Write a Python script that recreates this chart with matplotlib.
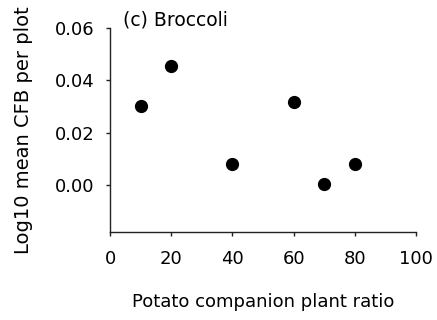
import matplotlib
matplotlib.use('Agg')
from matplotlib import pyplot as plt

plt.rcParams['font.family'] = ['DejaVu Sans']

# potato companion plant ratio vs log10 mean CFB per plot (broccoli)
ratio = [10, 20, 40, 60, 70, 80]
log_cfb = [0.0303, 0.0455, 0.0079, 0.0317, 0.0004, 0.0079]

xticks = [0, 20, 40, 60, 80, 100]
yticks = [0.00, 0.02, 0.04, 0.06]

fig = plt.figure(figsize=(4.37, 3.2), dpi=100)
ax = fig.add_axes([110/437, 88/320, 306/437, 204/320])

ax.plot(ratio, log_cfb, 'o', color='black', markersize=8.5, clip_on=False)

ax.set_xlim(0, 100)
ax.set_ylim(-0.018, 0.06)
ax.set_xticks(xticks)
ax.set_xticklabels([str(t) for t in xticks])
ax.set_yticks(yticks)
ax.set_yticklabels(['%.2f' % t for t in yticks])

for s in ['top', 'right']:
  ax.spines[s].set_visible(False)
for s in ['left', 'bottom']:
  ax.spines[s].set_linewidth(1.0)
  ax.spines[s].set_color('#222222')

fs = 13
ax.tick_params(direction='out', length=3, width=1, color='#222222', labelsize=fs, pad=8)
ax.tick_params(axis='x', pad=10)

ax.set_xlabel('Potato companion plant ratio', fontsize=fs, labelpad=18)
ax.set_ylabel('Log10 mean CFB per plot', fontsize=14, labelpad=16)

fig.text(123/437, 1 - 20/320, '(c) Broccoli', fontsize=13.5, va='center', ha='left')

fig.savefig('out.png', dpi=100)
